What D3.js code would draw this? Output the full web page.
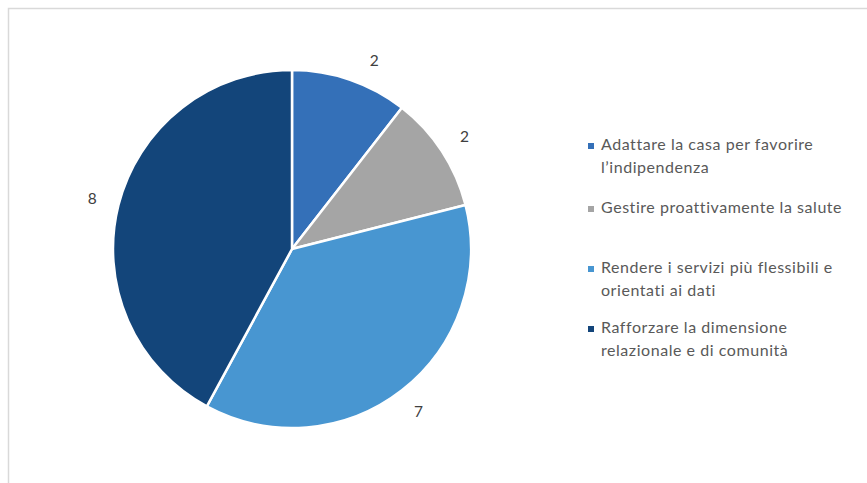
<!DOCTYPE html>
<html><head><meta charset="utf-8">
<script src="https://cdn.jsdelivr.net/npm/d3@7"></script>
<style>html,body{margin:0;padding:0;background:#fff;}svg{display:block;}text{font-variant-ligatures:none;}</style>
</head><body>
<script>
const categories = [
  ["Adattare la casa per favorire", "l\u2019indipendenza"],
  ["Gestire proattivamente la salute"],
  ["Rendere i servizi pi\u00f9 flessibili e", "orientati ai dati"],
  ["Rafforzare la dimensione", "relazionale e di comunit\u00e0"]
];
const values = [2, 2, 7, 8];
const colors = ["#3470B8", "#A5A5A5", "#4896D1", "#13457A"];

const W = 867, H = 483;
const svg = d3.select("body").append("svg").attr("width", W).attr("height", H);
svg.append("rect").attr("x", 8.5).attr("y", 8.5).attr("width", W + 10).attr("height", H + 10)
  .attr("fill", "#fff").attr("stroke", "#D9D9D9").attr("stroke-width", 1.5);

const cx = 292, cy = 249, R = 179;
const pie = d3.pie().sort(null).value(d => d);
const arcs = pie(values);
const arc = d3.arc().innerRadius(0).outerRadius(R);
const labelR = 206;
// small best-fit angular nudge (radians) applied by layout, like the spreadsheet's label placement
const labelNudge = [0.08, 0, 0, 0];

const g = svg.append("g").attr("transform", `translate(${cx},${cy})`);
g.selectAll("path").data(arcs).join("path")
  .attr("d", arc).attr("fill", (d, i) => colors[i])
  .attr("stroke", "#fff").attr("stroke-width", 2.5).attr("stroke-linejoin", "round");

g.selectAll("text.lbl").data(arcs).join("text").attr("class", "lbl")
  .attr("transform", (d, i) => {
    const a = (d.startAngle + d.endAngle) / 2 + labelNudge[i];
    return `translate(${labelR * Math.sin(a)},${-labelR * Math.cos(a)})`;
  })
  .attr("text-anchor", "middle").attr("dy", "0.35em")
  .style("font-family", "Lato, 'Open Sans', sans-serif").style("font-size", "15.5px")
  .attr("fill", "#404040").text(d => d.data);

const legendTops = [150, 213, 273, 333];
const lg = svg.append("g");
categories.forEach((lines, i) => {
  const y = legendTops[i];
  lg.append("rect").attr("x", 588).attr("y", y - 7).attr("width", 6).attr("height", 6).attr("fill", colors[i]);
  lines.forEach((t, j) => {
    lg.append("text").attr("x", 601).attr("y", y + j * 23)
      .style("font-family", "Lato, 'Open Sans', sans-serif").style("font-size", "16px")
      .style("letter-spacing", "0.55px")
      .attr("fill", "#595959").text(t);
  });
});
</script>
</body></html>
